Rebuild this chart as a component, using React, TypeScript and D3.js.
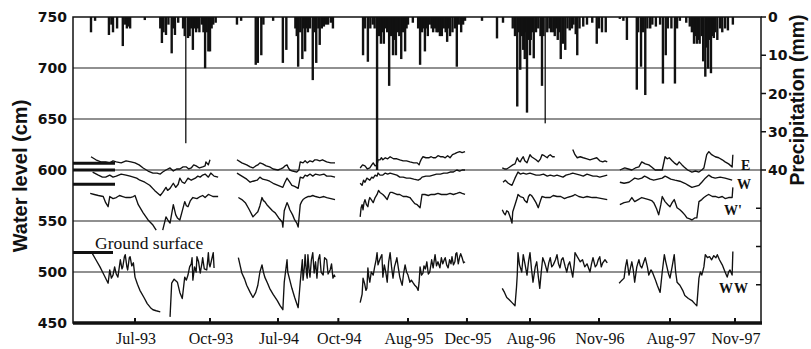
import React from 'react';
import * as d3 from 'd3';

// [day of year, value] pairs, one array per series and season; null = gap
const E93 = [[128,613],[134,610],[140,608],[146,608],[151,607],[155,609],[159,608],[165,607],[171,609],[177,608],[182,607],[187,605],[192,602],[198,599],[204,597],[209,597],[213,596],[216,598],[220,600],[225,602],[229,599],[233,601],[237,601],[241,603],[245,603],[248,601],[251,602],[254,605],[257,604],[261,602],[265,603],[268,604],[269,608],[272,605],[274,610]];
const W93 = [[130,598],[137,595],[142,593],[146,593],[151,595],[155,593],[159,594],[165,596],[171,595],[176,594],[180,593],[184,592],[188,590],[194,588],[200,585],[206,580],[213,575],[216,578],[220,583],[222,580],[225,582],[229,587],[232,583],[235,586],[237,592],[240,588],[243,587],[247,592],[251,590],[256,592],[259,594],[262,593],[265,595],[268,596],[272,593],[275,597],[279,594],[284,593]];
const Wp93 = [[127,577],[132,576],[137,575],[143,574],[146,568],[149,564],[151,574],[155,572],[159,573],[163,575],[167,574],[171,573],[176,573],[180,574],[182,575],[186,566],[192,558],[198,551],[204,546],[208,541],[210,null],[216,541],[220,554],[223,550],[225,548],[229,566],[232,556],[234,553],[237,551],[240,560],[243,569],[245,565],[247,564],[250,570],[253,573],[258,572],[262,574],[265,575],[268,573],[272,576],[275,575],[278,574],[284,574]];
const WW93 = [[129,519],[134,512],[139,505],[144,497],[149,489],[151,502],[153,494],[155,497],[157,505],[159,498],[161,495],[164,512],[166,503],[167,505],[169,515],[170,517],[172,505],[173,502],[175,514],[176,515],[178,506],[180,509],[182,495],[185,488],[188,482],[193,475],[197,469],[201,465],[204,463],[208,462],[213,461],[218,null],[225,456],[227,489],[230,493],[234,490],[237,480],[240,474],[243,495],[245,492],[247,497],[249,505],[251,508],[252,514],[253,492],[255,505],[257,500],[258,515],[260,510],[262,499],[264,508],[265,514],[267,503],[270,502],[271,510],[272,519],[273,508],[274,505],[276,512],[278,519],[279,504]];

const E94 = [[123,610],[130,607],[137,605],[142,603],[146,602],[150,604],[153,605],[156,607],[160,606],[165,604],[170,603],[175,601],[182,600],[186,601],[189,602],[192,604],[195,605],[197,602],[199,600],[203,599],[209,598],[212,600],[214,608],[218,607],[221,609],[224,607],[228,609],[232,608],[235,610],[238,610],[242,609],[246,610],[249,609],[252,608],[258,607],[264,607]];
const W94 = [[123,597],[130,594],[137,591],[142,588],[146,589],[152,590],[156,593],[160,591],[166,590],[170,589],[175,587],[182,585],[189,583],[192,588],[195,592],[199,588],[202,585],[206,584],[211,582],[214,593],[218,592],[221,595],[224,594],[228,596],[232,594],[236,596],[242,595],[248,596],[252,594],[258,594],[264,593]];
const Wp94 = [[125,573],[130,571],[135,568],[140,562],[146,554],[150,557],[153,559],[156,565],[159,573],[161,570],[163,569],[166,566],[170,563],[174,560],[178,558],[183,553],[188,549],[189,544],[191,560],[195,568],[197,565],[199,561],[203,556],[206,551],[209,548],[211,544],[214,566],[216,569],[218,571],[222,573],[225,574],[228,574],[232,575],[236,574],[242,573],[248,574],[252,573],[258,572],[264,571]];
const WW94 = [[125,514],[128,505],[130,499],[134,493],[137,487],[142,480],[146,475],[150,480],[153,487],[156,500],[159,507],[161,500],[163,495],[167,489],[170,484],[175,478],[181,472],[185,467],[189,463],[191,490],[195,512],[196,500],[199,492],[202,484],[206,475],[211,465],[214,490],[217,512],[218,492],[220,505],[221,517],[223,498],[224,494],[225,517],[227,500],[228,495],[230,512],[232,519],[234,499],[236,510],[238,494],[240,512],[242,517],[244,500],[247,497],[249,514],[252,512],[254,498],[257,502],[259,508],[261,494],[263,497],[264,495]];

const E95 = [[114,602],[119,605],[124,604],[129,601],[134,602],[138,605],[141,607],[145,604],[149,605],[151,610],[155,610],[158,612],[161,610],[166,612],[171,611],[176,613],[183,611],[190,611],[196,610],[203,609],[210,609],[217,608],[225,607],[232,607],[236,605],[238,608],[241,611],[244,613],[250,612],[256,612],[261,613],[265,612],[270,612],[275,614],[280,613],[285,613],[290,612],[295,614],[300,612],[305,615],[310,616],[314,617],[320,618],[325,617],[331,618]];
const W95 = [[114,587],[118,585],[121,590],[124,588],[128,592],[134,590],[138,593],[141,592],[145,595],[149,594],[151,597],[155,595],[161,595],[166,597],[171,596],[176,597],[183,596],[190,595],[196,593],[203,593],[210,592],[217,592],[225,591],[234,590],[238,591],[242,593],[250,594],[258,594],[265,595],[272,596],[280,596],[287,597],[294,597],[300,598],[307,598],[314,600],[320,599],[325,600],[331,600]];
const Wp95 = [[114,554],[116,563],[118,566],[120,561],[122,568],[124,571],[127,566],[130,564],[132,570],[134,573],[137,571],[141,568],[145,573],[149,576],[152,580],[155,578],[158,577],[161,576],[165,574],[170,571],[173,575],[176,578],[180,578],[185,577],[190,576],[196,576],[203,574],[210,574],[217,573],[222,570],[227,567],[232,566],[236,564],[238,563],[242,576],[248,576],[255,575],[261,576],[268,576],[275,577],[282,576],[288,576],[294,576],[300,577],[307,576],[314,577],[320,578],[325,577],[331,576]];
const WW95 = [[114,470],[116,474],[118,478],[120,494],[123,489],[126,482],[128,484],[130,504],[132,495],[134,490],[137,500],[141,497],[144,505],[147,512],[149,519],[151,507],[153,510],[156,514],[159,517],[161,495],[164,507],[167,500],[170,490],[173,510],[176,519],[179,505],[182,494],[185,505],[188,510],[190,514],[193,504],[196,495],[199,490],[201,487],[204,499],[207,507],[210,500],[213,497],[217,490],[220,492],[224,489],[227,487],[231,485],[234,482],[236,490],[238,505],[241,497],[244,499],[246,506],[249,503],[252,510],[255,498],[258,500],[262,512],[265,504],[269,517],[272,506],[275,510],[279,504],[282,514],[285,508],[288,512],[290,514],[293,507],[296,504],[299,512],[302,508],[304,515],[307,507],[310,510],[312,518],[314,519],[317,508],[320,515],[322,518],[325,514],[328,509],[331,510]];

const E96 = [[177,602],[180,601],[183,601],[187,603],[191,605],[194,606],[197,612],[199,609],[201,608],[203,611],[205,613],[207,609],[210,607],[212,611],[214,615],[216,613],[218,612],[222,610],[225,608],[228,611],[230,615],[233,614],[237,612],[239,614],[241,615],[244,613],[247,613],[248,null],[271,620],[274,615],[277,612],[281,613],[285,612],[290,611],[294,610],[298,611],[303,612],[307,609],[311,608],[314,609],[317,608]];
const W96 = [[178,588],[181,590],[185,587],[190,585],[194,592],[198,598],[201,596],[205,597],[209,596],[214,597],[218,596],[222,595],[227,595],[232,596],[237,594],[241,595],[246,594],[250,595],[254,594],[258,593],[262,595],[267,596],[271,597],[276,596],[281,595],[285,594],[290,596],[294,595],[298,594],[303,594],[307,593],[312,594],[317,595]];
const Wp96 = [[177,561],[179,558],[181,556],[183,560],[185,559],[188,553],[190,548],[191,559],[194,566],[197,573],[198,576],[201,574],[205,573],[207,570],[210,568],[212,574],[214,576],[216,575],[218,573],[222,568],[225,563],[228,570],[230,574],[235,573],[241,573],[245,575],[250,574],[255,574],[260,572],[263,573],[268,574],[272,575],[274,576],[279,574],[285,573],[290,574],[297,573],[303,573],[310,572],[317,571]];
const WW96 = [[177,484],[180,480],[183,475],[186,473],[190,470],[194,467],[196,485],[197,497],[198,519],[200,507],[203,500],[205,517],[208,505],[210,497],[212,510],[214,519],[216,503],[218,490],[221,505],[223,510],[225,496],[227,484],[229,500],[231,514],[234,508],[237,500],[239,509],[241,514],[243,505],[245,507],[248,512],[250,517],[252,508],[254,504],[256,512],[258,514],[261,505],[263,500],[265,507],[267,510],[269,502],[271,495],[273,508],[274,519],[277,515],[281,510],[284,512],[287,505],[290,508],[294,500],[296,508],[298,514],[301,505],[303,507],[305,512],[307,515],[309,505],[311,509],[314,512],[317,509]];

const E97 = [[142,600],[149,602],[154,601],[159,600],[164,602],[169,603],[173,608],[178,606],[183,605],[187,603],[192,600],[197,600],[202,600],[206,613],[209,611],[212,612],[216,609],[219,607],[223,605],[226,608],[230,605],[233,603],[238,600],[244,598],[249,599],[254,598],[258,600],[261,602],[265,615],[268,618],[272,615],[277,613],[282,612],[287,610],[291,608],[296,606],[301,603],[302,615]];
const W97 = [[142,588],[148,587],[155,588],[159,590],[163,592],[168,591],[173,592],[177,594],[180,593],[185,591],[190,590],[196,591],[202,592],[206,594],[209,593],[214,591],[220,590],[227,589],[234,587],[239,585],[244,583],[249,584],[254,585],[258,588],[263,592],[268,595],[272,593],[277,592],[284,593],[291,592],[296,591],[301,590]];
const Wp97 = [[142,566],[148,568],[155,569],[159,573],[163,569],[168,571],[173,573],[178,572],[183,571],[187,570],[190,568],[194,562],[197,556],[200,566],[202,574],[206,569],[210,566],[213,564],[216,568],[219,571],[223,563],[227,561],[230,559],[234,556],[237,553],[241,552],[244,551],[248,553],[251,553],[254,569],[258,571],[261,573],[265,575],[268,576],[273,574],[278,574],[282,573],[287,574],[291,572],[296,573],[301,573],[302,583]];
const WW97 = [[141,489],[145,492],[148,494],[150,505],[152,512],[155,497],[157,504],[159,510],[161,502],[163,490],[166,505],[169,512],[171,506],[173,504],[176,510],[178,514],[181,505],[183,497],[186,502],[188,500],[192,493],[195,487],[199,480],[202,500],[205,517],[207,510],[209,504],[211,498],[213,494],[216,505],[219,517],[221,500],[223,490],[227,487],[231,482],[234,477],[239,474],[244,472],[248,469],[251,467],[254,494],[256,500],[258,497],[261,505],[263,517],[266,514],[269,515],[272,512],[275,516],[278,514],[280,517],[283,512],[287,507],[291,500],[294,495],[296,500],[298,502],[301,497],[302,520]];

// precipitation bars, [day of year, mm]
const P93 = [[128,4],[133,1],[150,4.7],[153,2],[155,4],[160,3],[167,7.6],[170,2],[172,3],[174,2.5],[176,3],[194,0.8],[213,3],[215,6.8],[217,4],[220,4.7],[223,2],[227,9.5],[229,3],[231,4.7],[235,1.5],[241,3],[243,5],[245,33],[247,5.5],[249,5],[251,3],[253,8.6],[255,3],[257,4],[259,3],[261,4],[264,2],[266,4],[268,13.4],[270,4],[272,9],[274,9],[276,3],[278,2],[281,1.5]];
const P94 = [[123,2],[129,1],[150,12.5],[153,12],[158,10],[161,2],[175,1],[189,12],[194,8.6],[207,3],[209,5],[211,13],[214,4],[217,11],[219,3],[221,9],[223,3],[225,4],[228,3],[232,16.5],[235,4],[237,12],[240,3],[242,7.3],[245,3],[248,2.5],[251,2],[254,2],[258,1.5],[261,3]];
const P95 = [[120,10],[124,3],[130,11.7],[135,3],[140,2],[144,3],[149,40],[153,5],[157,7],[160,4],[163,7],[167,3],[170,4],[174,18],[178,5],[182,10],[185,6],[188,10],[192,4],[195,5],[199,11],[203,4],[207,9],[210,3],[213,2],[223,1.5],[234,3],[238,12.5],[242,4],[245,3],[248,9],[251,3],[254,5],[258,2],[262,3],[265,4],[269,3],[272,4],[275,4],[279,5],[283,5],[287,3],[291,4],[294,6.5],[297,3],[300,5],[305,4],[310,3],[314,13],[318,2],[323,4],[327,2],[331,1]];
const P96 = [[150,1],[170,5.6],[178,1.5],[191,3],[194,5],[197,23.4],[199,4],[201,13.8],[203,5],[205,8.6],[207,11],[208,4],[210,25],[212,6],[214,10],[215,6],[217,4],[219,10.8],[222,4],[225,3],[228,5],[230,18],[232,5],[235,27.8],[237,4],[240,3],[242,4],[245,4],[247,5],[249,3],[251,6],[253,4],[255,11],[258,7],[261,8.6],[264,3],[267,3.5],[270,3],[272,2],[275,4.5],[277,10],[280,3],[285,2.5],[290,2],[297,1.5],[303,7],[306,3],[310,4],[315,4]];
const P97 = [[142,0.5],[147,1],[152,6],[166,19],[168,4],[172,13],[175,4],[178,20.4],[181,3],[185,3],[188,2],[193,2.5],[199,2],[203,17.4],[207,10],[210,3],[215,3],[220,17.4],[223,3],[227,1],[236,1.5],[241,2.5],[244,4],[247,7],[249,5],[251,7],[253,6],[255,7],[258,5],[260,11.6],[263,15.6],[265,8],[267,13.5],[269,6],[271,14.7],[273,5],[275,5.5],[277,4],[280,6],[284,3],[287,4],[291,3],[295,3.5],[302,2]];

const years = [1993, 1994, 1995, 1996, 1997];
const eSeries = [E93, E94, E95, E96, E97];
const wSeries = [W93, W94, W95, W96, W97];
const wpSeries = [Wp93, Wp94, Wp95, Wp96, Wp97];
const wwSeries = [WW93, WW94, WW95, WW96, WW97];
const rainSeries = [P93, P94, P95, P96, P97];

// broken time axis: each season is drawn at its own scale
const axisBreaks: [number, number, number][] = [
  [1993, 121, 85.3], [1993, 288, 221.4],
  [1994, 115, 231.4], [1994, 268, 337.8],
  [1995, 105, 355.8], [1995, 339, 468.9],
  [1996, 146, 479], [1996, 320, 609.5],
  [1997, 135, 614.9], [1997, 309, 737.8],
];
const xTicks: [number, number, string][] = [
  [1993, 6, 'Jul-93'], [1993, 9, 'Oct-93'], [1994, 6, 'Jul-94'], [1994, 9, 'Oct-94'],
  [1995, 7, 'Aug-95'], [1995, 11, 'Dec-95'], [1996, 7, 'Aug-96'], [1996, 10, 'Nov-96'],
  [1997, 7, 'Aug-97'], [1997, 10, 'Nov-97'],
];
const levelTicks = [750, 700, 650, 600, 550, 500, 450];
const gridLevels = [700, 650, 600, 550, 500];
const rainTicks = [0, 10, 20, 30, 40, 50, 60, 70];
const rainLabels = [0, 10, 20, 30, 40];
const wellTops = [606.5, 600, 586];
const groundLevel = 519;

const day = (yr: number, doy: number) => new Date(yr, 0, doy);

const left = 73, right = 761, top = 17, bottom = 323;

const x = d3.scaleTime()
  .domain(axisBreaks.map((b) => day(b[0], b[1])))
  .range(axisBreaks.map((b) => b[2]));
const y = d3.scaleLinear().domain([450, 750]).range([bottom, top]);
const yRain = d3.scaleLinear().domain([0, 80]).range([top, bottom]);

const App = () => {
  const lineFor = (yr: number) =>
    d3.line<any>()
      .defined((d) => d[1] != null)
      .x((d) => x(day(yr, d[0])))
      .y((d) => y(d[1]));

  const tickFont = { fontFamily: 'DejaVu Sans', fontWeight: 'bold', fontSize: 14 };

  return (
    <svg width={811} height={349} style={{ position: 'absolute', left: 0, top: 0, background: '#fff' }}>
      {/* grid */}
      {gridLevels.map((v) => (
        <line key={v} x1={left} x2={right} y1={y(v)} y2={y(v)} stroke="#222" strokeWidth={1.2} />
      ))}

      {/* rain bars */}
      {years.map((yr, i) =>
        rainSeries[i].map((d, j) => (
          <rect key={yr + '-' + j} x={x(day(yr, d[0])) - 1.2} y={yRain(0)} width={d[1] > 25 && d[1] < 35 ? 1.3 : 2.4}
            height={yRain(d[1]) - yRain(0)} fill="#111" />
        ))
      )}

      {/* water level lines */}
      {years.map((yr, i) => {
        const ln = lineFor(yr);
        return (
          <g key={yr} fill="none" stroke="#111" strokeWidth={1.35} strokeLinejoin="round">
            <path d={ln(eSeries[i] as any) || ''} />
            <path d={ln(wSeries[i] as any) || ''} />
            <path d={ln(wpSeries[i] as any) || ''} />
            <path d={ln(wwSeries[i] as any) || ''} />
          </g>
        );
      })}

      {/* well top markers and ground surface */}
      {wellTops.map((v) => (
        <line key={v} x1={left} x2={115} y1={y(v)} y2={y(v)} stroke="#111" strokeWidth={3} />
      ))}
      <line x1={left} x2={113} y1={y(groundLevel)} y2={y(groundLevel)} stroke="#111" strokeWidth={3} />
      <text x={95} y={249} fontFamily="Liberation Serif" fontSize={17.5} fill="#111">Ground surface</text>

      {/* series labels */}
      <g fontFamily="Liberation Serif" fontWeight="bold" fontSize={14} fill="#111">
        <text x={741} y={y(600)}>E</text>
        <text x={737} y={y(581)}>W</text>
        <text x={724} y={y(556)}>W'</text>
        <text x={719} y={y(479)} letterSpacing={1}>WW</text>
      </g>

      {/* frame */}
      <rect x={left} y={top} width={right - left} height={bottom - top} fill="none" stroke="#111" strokeWidth={1.5} />
      <line x1={left} x2={right + 1} y1={bottom} y2={bottom} stroke="#111" strokeWidth={3.5} />

      {/* x ticks */}
      {xTicks.map((t) => {
        const px = x(new Date(t[0], t[1], 1));
        return (
          <g key={t[2]}>
            <line x1={px} x2={px} y1={bottom} y2={bottom - 5} stroke="#111" strokeWidth={2} />
            <text x={px + 1} y={344} textAnchor="middle" fontFamily="Liberation Serif" fontSize={16} fill="#111">{t[2]}</text>
          </g>
        );
      })}

      {/* left axis */}
      {levelTicks.map((v) => (
        <text key={v} x={67} y={y(v)} dy="0.36em" textAnchor="end" {...tickFont} fill="#111">{v}</text>
      ))}
      <text transform={`translate(27,${(top + bottom) / 2 + 6}) rotate(-90)`} textAnchor="middle"
        fontFamily="Liberation Sans" fontWeight="bold" fontSize={20} fill="#111">Water level (cm)</text>

      {/* right axis */}
      {rainTicks.map((v) => {
        const labelled = rainLabels.includes(v);
        return (
          <line key={v} x1={right} x2={labelled ? right + 5 : right - 5} y1={yRain(v)} y2={yRain(v)} stroke="#111" strokeWidth={1.5} />
        );
      })}
      {rainLabels.map((v) => (
        <text key={v} x={768} y={yRain(v)} dy="0.36em" {...tickFont} fill="#111">{v}</text>
      ))}
      <text transform={`translate(804,${100}) rotate(-90)`} textAnchor="middle"
        fontFamily="Liberation Sans" fontWeight="bold" fontSize={19.5} fill="#111">Precipitation (mm)</text>
    </svg>
  );
};

export default App;
